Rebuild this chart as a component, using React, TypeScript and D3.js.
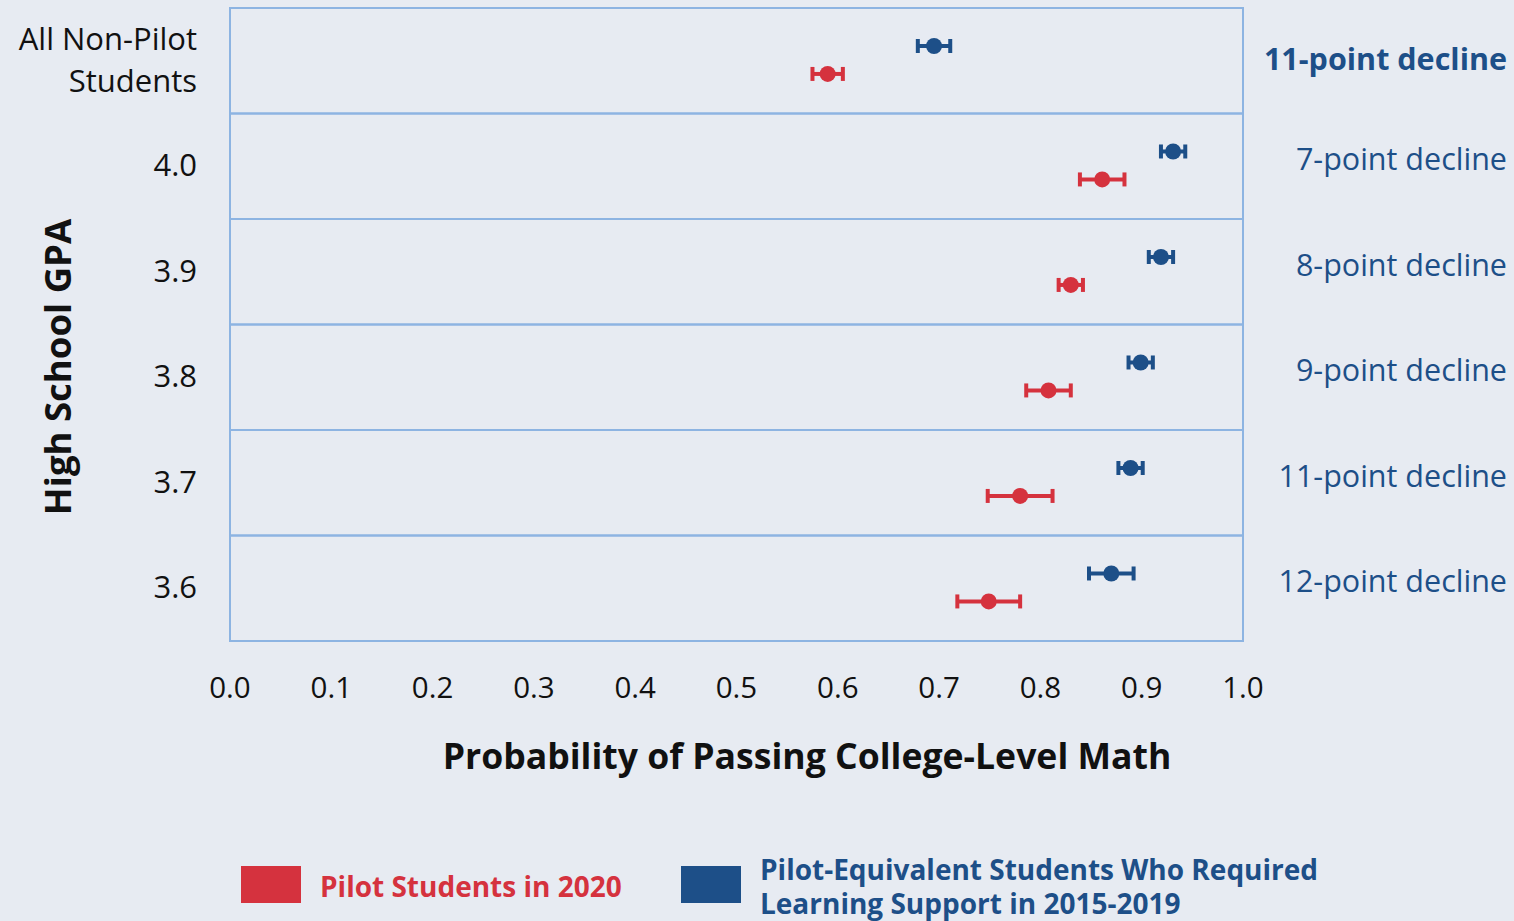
import React from "react";
import * as d3 from "d3";

const categories = ["All Non-Pilot\nStudents", "4.0", "3.9", "3.8", "3.7", "3.6"];
const pilotValues = [0.59, 0.861, 0.83, 0.808, 0.78, 0.749];
const pilotErr = [0.015, 0.022, 0.012, 0.022, 0.032, 0.031];
const equivValues = [0.695, 0.931, 0.919, 0.899, 0.889, 0.87];
const equivErr = [0.016, 0.012, 0.012, 0.012, 0.012, 0.022];
const declineLabels = ["11-point decline", "7-point decline", "8-point decline", "9-point decline", "11-point decline", "12-point decline"];
const xTicks = [0, 0.1, 0.2, 0.3, 0.4, 0.5, 0.6, 0.7, 0.8, 0.9, 1.0];

const RED = "#d5323e";
const BLUE = "#1d4f88";
const BG = "#e7ebf2";
const FONT = "'Open Sans', 'Noto Sans', sans-serif";

export default function App() {
  const W = 1514, H = 921;
  const left = 230, right = 1243, top = 8, bottom = 641;
  const x = d3.scaleLinear().domain([0, 1]).range([left, right]);
  const y = d3.scaleBand<number>().domain(d3.range(categories.length)).range([top, bottom]).padding(0);
  const bw = y.bandwidth();
  const cap = 7;

  const errBar = (v: number, e: number, cy: number, color: string, key: string) => (
    <g key={key}>
      <line x1={x(v - e)} x2={x(v + e)} y1={cy} y2={cy} stroke={color} strokeWidth={4} />
      <line x1={x(v - e)} x2={x(v - e)} y1={cy - cap} y2={cy + cap} stroke={color} strokeWidth={4} />
      <line x1={x(v + e)} x2={x(v + e)} y1={cy - cap} y2={cy + cap} stroke={color} strokeWidth={4} />
      <circle cx={x(v)} cy={cy} r={8} fill={color} />
    </g>
  );

  return (
    <div style={{ position: "absolute", left: 0, top: 0, width: W, height: H, background: BG }}>
      <svg width={W} height={H} style={{ display: "block", fontFamily: FONT }}>
        <rect x={0} y={0} width={W} height={H} fill={BG} />
        {categories.map((c, i) => (
          <rect key={"r" + i} x={left} y={y(i)!} width={right - left} height={bw} fill="none" stroke="#8db4e2" strokeWidth={2} />
        ))}
        {categories.map((c, i) => {
          const lines = c.split("\n");
          const cy = y(i)! + bw / 2;
          return (
            <text key={"c" + i} x={197} textAnchor="end" fontSize={31} fill="#111">
              {lines.map((l, j) => (
                <tspan key={j} x={197} y={cy + 10 + (j - (lines.length - 1) / 2) * 42}>{l}</tspan>
              ))}
            </text>
          );
        })}
        {declineLabels.map((l, i) => (
          <text key={"d" + i} x={1507} y={y(i)! + bw * 0.5 + (i === 0 ? -1 : -6)} dy={10} textAnchor="end" fontSize={30.5}
            fontWeight={i === 0 ? 700 : 400} fill={BLUE}>{l}</text>
        ))}
        {categories.map((c, i) => errBar(equivValues[i], equivErr[i], y(i)! + bw * 0.36, BLUE, "b" + i))}
        {categories.map((c, i) => errBar(pilotValues[i], pilotErr[i], y(i)! + bw * 0.625, RED, "p" + i))}
        {xTicks.map((t) => (
          <text key={"t" + t} x={x(t)} y={698} textAnchor="middle" fontSize={29.5} fill="#111">{t.toFixed(1)}</text>
        ))}
        <text x={807} y={769} textAnchor="middle" fontSize={35.6} fontWeight={700} fill="#111">Probability of Passing College-Level Math</text>
        <text transform="translate(71,367) rotate(-90)" textAnchor="middle" fontSize={36.5} fontWeight={700} fill="#111">High School GPA</text>
        <rect x={241} y={866} width={60} height={37} fill={RED} />
        <text x={320} y={897} fontSize={28} fontWeight={700} fill={RED}>Pilot Students in 2020</text>
        <rect x={681} y={866} width={60} height={37} fill={BLUE} />
        <text fontSize={28} fontWeight={700} fill={BLUE}>
          <tspan x={760} y={880}>Pilot-Equivalent Students Who Required</tspan>
          <tspan x={760} y={914}>Learning Support in 2015-2019</tspan>
        </text>
      </svg>
    </div>
  );
}
